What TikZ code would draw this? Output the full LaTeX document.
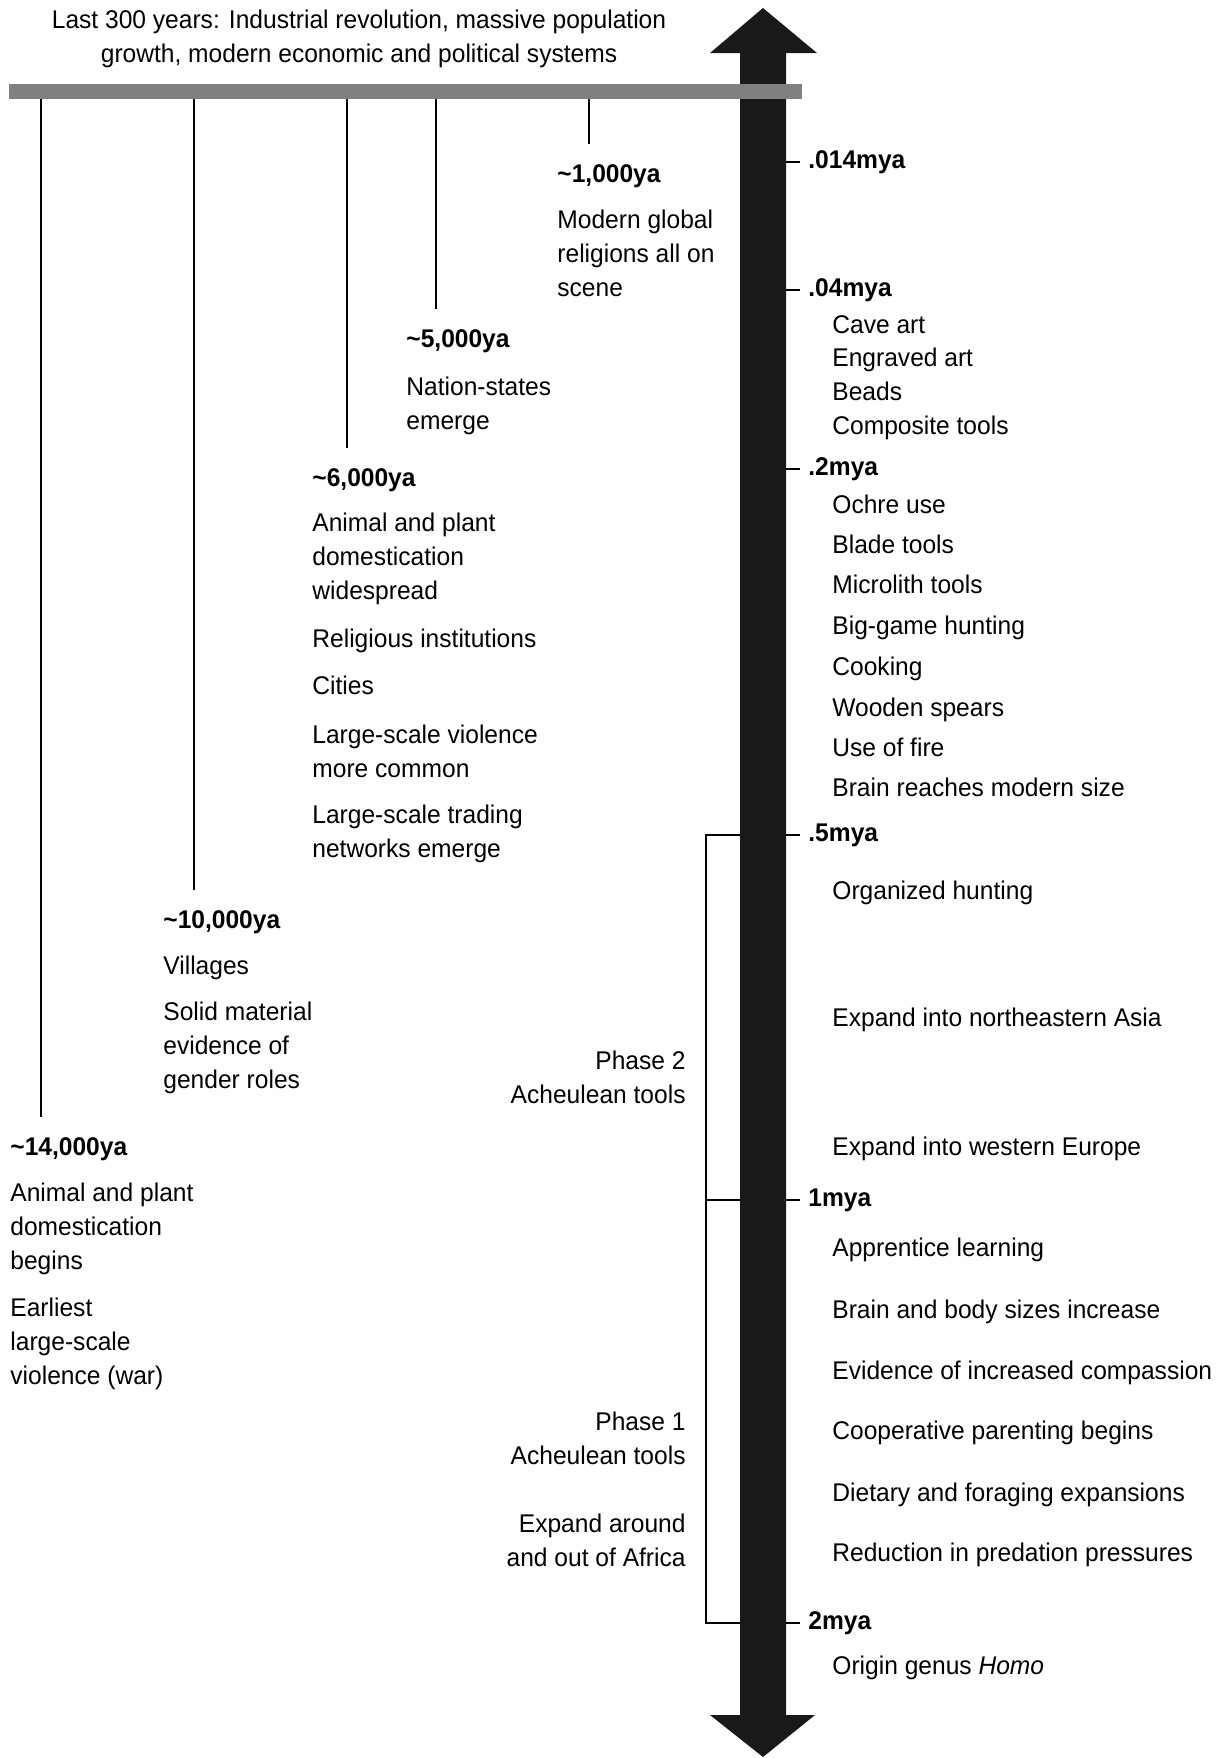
\documentclass[tikz,border=0pt]{standalone}
\usepackage{fontspec}
\setmainfont[FakeStretch=0.96]{Liberation Sans}
\usetikzlibrary{calc}

\begin{document}
\begin{tikzpicture}[x=0.5pt,y=-0.5pt,
    font=\fontsize{12.8}{16.8}\selectfont,
    date/.style={font=\fontsize{12.8}{16.8}\selectfont\bfseries,anchor=base west,inner sep=0pt},
    note/.style={align=left,anchor=base west,inner sep=0pt},
    phase/.style={align=right,anchor=base east,inner sep=0pt},
    lead/.style={line width=0.8pt}]
    \useasboundingbox (0,0) rectangle (1227,1758);

    % the time arrow
    \fill[black!90] (763,8) -- (817,53) -- (786,53) -- (786,1715) -- (815,1715)
        -- (763,1757) -- (710,1715) -- (740,1715) -- (740,53) -- (710,53) -- cycle;
    \coordinate (sl) at (740,0);
    \coordinate (sr) at (786,0);

    % multi-line nodes sit on the baseline of their last line
    \node[align=center,anchor=base,inner sep=0pt] (title) at (359,62)
        {Last 300 years: Industrial revolution, massive population\\growth, modern economic and political systems};

    % dates on the arrow
    \node[date] (t1) at (808,168) {.014mya};
    \node[date] (t2) at (808,296) {.04mya};
    \node[date] (t3) at (808,475) {.2mya};
    \node[date] (t4) at (808,841) {.5mya};
    \node[date] (t5) at (808,1206) {1mya};
    \node[date] (t6) at (808,1629) {2mya};

    \foreach \t in {t1,t2,t3,t4,t5,t6}
        \draw[lead] (\t.west -| sr) -- ($(\t.west)+(-8,0)$);

    \node[note] (cave) at (832,434) {Cave art\\Engraved art\\Beads\\Composite tools};
    \node[note] (ochre) at (832,513) {Ochre use};
    \node[note] (blade) at (832,553) {Blade tools};
    \node[note] (micro) at (832,593) {Microlith tools};
    \node[note] (game) at (832,634) {Big-game hunting};
    \node[note] (cook) at (832,675) {Cooking};
    \node[note] (spear) at (832,716) {Wooden spears};
    \node[note] (fire) at (832,756) {Use of fire};
    \node[note] (brain) at (832,796) {Brain reaches modern size};
    \node[note] (hunt) at (832,899) {Organized hunting};
    \node[note] (asia) at (832,1026) {Expand into northeastern Asia};
    \node[note] (europe) at (832,1155) {Expand into western Europe};
    \node[note] (learn) at (832,1256) {Apprentice learning};
    \node[note] (size) at (832,1318) {Brain and body sizes increase};
    \node[note] (comp) at (832,1379) {Evidence of increased compassion};
    \node[note] (parent) at (832,1439) {Cooperative parenting begins};
    \node[note] (diet) at (832,1501) {Dietary and foraging expansions};
    \node[note] (pred) at (832,1561) {Reduction in predation pressures};
    \node[note] (homo) at (832,1674) {Origin genus \textit{Homo}};

    % Acheulean phases
    \draw[lead] (t4.west -| sl) -- ++(-34,0) |- (t6.west -| sl);
    \draw[lead] (t5.west -| sl) -- ++(-34,0);
    \node[phase] (ph2) at (686,1103) {Phase 2\\Acheulean tools};
    \node[phase] (ph1) at (686,1464) {Phase 1\\Acheulean tools};
    \node[phase] (africa) at (686,1566) {Expand around\\and out of Africa};

    % recent history
    \node[date] (d1) at (557,182) {\textasciitilde1,000ya};
    \node[note] (relig) at (557,296) {Modern global\\religions all on\\scene};
    \node[date] (d5) at (406,347) {\textasciitilde5,000ya};
    \node[note] (nation) at (406,429) {Nation-states\\emerge};
    \node[date] (d6) at (312,486) {\textasciitilde6,000ya};
    \node[note] (domw) at (312,599) {Animal and plant\\domestication\\widespread};
    \node[note] (inst) at (312,647) {Religious institutions};
    \node[note] (city) at (312,694) {Cities};
    \node[note] (viol) at (312,777) {Large-scale violence\\more common};
    \node[note] (trade) at (312,857) {Large-scale trading\\networks emerge};
    \node[date] (d10) at (163,928) {\textasciitilde10,000ya};
    \node[note] (vill) at (163,974) {Villages};
    \node[note] (gender) at (163,1088) {Solid material\\evidence of\\gender roles};
    \node[date] (d14) at (10,1155) {\textasciitilde14,000ya};
    \node[note] (domb) at (10,1269) {Animal and plant\\domestication\\begins};
    \node[note] (war) at (10,1384) {Earliest\\large-scale\\violence (war)};

    \coordinate (b1) at (589,99);
    \coordinate (b5) at (436,99);
    \coordinate (b6) at (347,99);
    \coordinate (b10) at (194,99);
    \coordinate (b14) at (41,99);
    \foreach \b/\d in {b1/d1,b5/d5,b6/d6,b10/d10,b14/d14}
        \draw[lead] (\b) -- ($(\b |- \d.north)+(0,-20)$);

    \draw[line width=7.5pt,black!50] (9,91.5) -- (802,91.5);
\end{tikzpicture}
\end{document}
